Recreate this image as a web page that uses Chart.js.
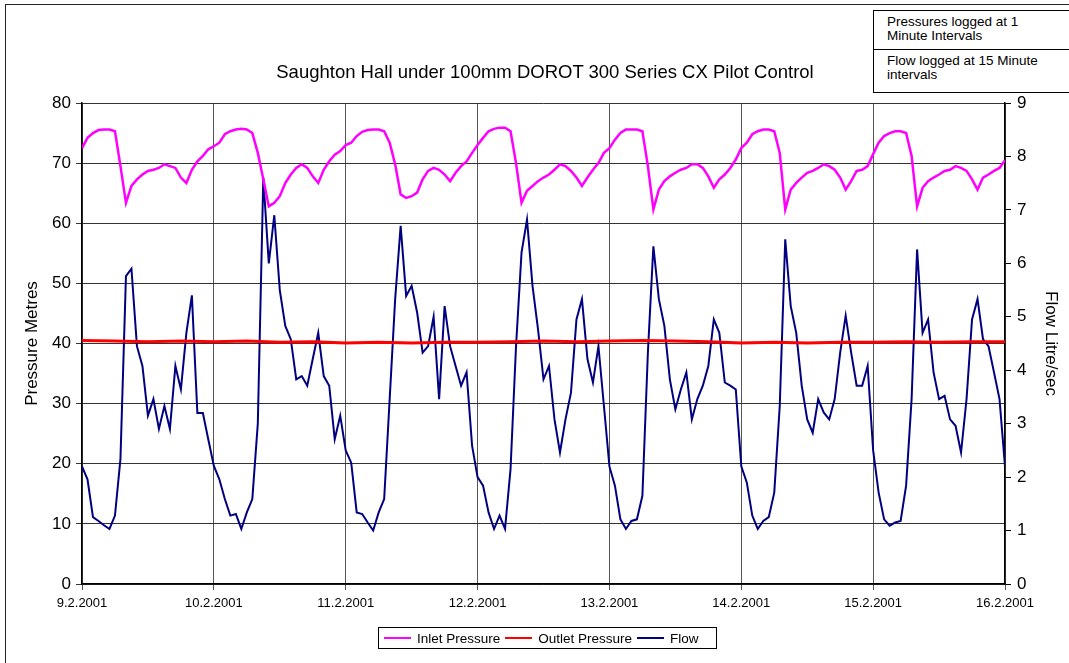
<!DOCTYPE html>
<html>
<head>
<meta charset="utf-8">
<script src="https://cdn.jsdelivr.net/npm/chart.js@4/dist/chart.umd.min.js"></script>
<style>
  body { margin: 0; background: #fff; }
  #frame { position: absolute; left: 5px; top: 4px; width: 1080px; height: 680px; border: 1.5px solid #222; box-sizing: border-box; }
  #wrap { position: absolute; left: 0; top: 0; width: 1069px; height: 663px; }
  .narrow { font-family: "Liberation Sans", sans-serif; color: #000; white-space: nowrap; }
  #title { position: absolute; left: 0; width: 1090px; top: 61px; text-align: center; font-size: 18.5px; }
  .note { position: absolute; left: 873px; width: 200px; border: 1.5px solid #000; box-sizing: border-box; font-size: 13.5px; line-height: 14px; padding: 4px 0 0 13px; background: #fff; }
  #legend { position: absolute; left: 378px; top: 627px; width: 339px; height: 22px; border: 1px solid #000; box-sizing: border-box; font-size: 13.5px; display: flex; align-items: center; padding-left: 2px; }
  #legend span.sw { display: inline-block; width: 27px; height: 0; border-top: 2px solid; margin: 0 6px 0 3px; }
  #legend span.lb { margin-right: 2px; }
</style>
</head>
<body>
<div id="wrap"><canvas id="chart" width="1069" height="663"></canvas></div>
<div id="frame"></div>
<div id="title" class="narrow">Saughton Hall under 100mm DOROT 300 Series CX Pilot Control</div>
<div class="note narrow" style="top:10px;height:40px;">Pressures logged at 1<br>Minute Intervals</div>
<div class="note narrow" style="top:49px;height:44px;">Flow logged at 15 Minute<br>intervals</div>
<div id="legend" class="narrow"></div>
<script>
const dayLabels = ['9.2.2001', '10.2.2001', '11.2.2001', '12.2.2001', '13.2.2001', '14.2.2001', '15.2.2001', '16.2.2001'];

// one value per hour from 9.2.2001 00:00 to 16.2.2001 00:00
const inletPressure = [
  72.5, 74.2, 75.0, 75.5, 75.6, 75.6, 75.3, 69.5, 63.4, 66.2, 67.3, 68.1, 68.7, 68.9, 69.2, 69.8, 69.5, 69.2, 67.6, 66.7, 68.9, 70.3, 71.2, 72.3,
  72.8, 73.4, 74.8, 75.3, 75.6, 75.7, 75.6, 75.0, 71.7, 67.3, 62.8, 63.4, 64.5, 66.7, 68.1, 69.2, 69.8, 69.2, 67.8, 66.7, 68.9, 70.3, 71.4, 72.0,
  73.0, 73.4, 74.5, 75.2, 75.5, 75.6, 75.6, 75.3, 73.4, 69.8, 64.8, 64.2, 64.5, 65.1, 67.3, 68.7, 69.2, 68.9, 68.1, 67.0, 68.4, 69.5, 70.3, 71.7,
  73.0, 74.2, 75.3, 75.7, 75.9, 75.9, 75.3, 70.0, 63.4, 65.4, 66.2, 67.0, 67.6, 68.1, 68.9, 69.8, 69.5, 68.7, 67.6, 66.2, 67.6, 68.9, 70.0, 71.7,
  72.5, 73.9, 75.0, 75.6, 75.6, 75.6, 75.3, 69.5, 62.3, 65.6, 67.0, 67.8, 68.4, 68.9, 69.2, 69.8, 69.8, 69.2, 67.8, 65.9, 67.3, 68.1, 69.2, 70.6,
  72.5, 73.4, 74.8, 75.3, 75.6, 75.6, 75.3, 71.7, 62.3, 65.6, 66.7, 67.6, 68.4, 68.7, 69.2, 69.8, 69.5, 68.9, 67.6, 65.6, 67.0, 68.7, 68.9, 69.5,
  71.5, 73.4, 74.5, 75.0, 75.3, 75.3, 75.0, 71.2, 62.8, 65.9, 67.0, 67.6, 68.1, 68.7, 68.9, 69.5, 69.2, 68.7, 67.3, 65.6, 67.6, 68.1, 68.7, 69.2,
  70.5
];

const flow = [
  2.2, 1.96, 1.25, 1.18, 1.1, 1.03, 1.28, 2.34, 5.76, 5.9, 4.45, 4.08, 3.15, 3.46, 2.9, 3.33, 2.9, 4.08, 3.64, 4.7, 5.4, 3.2, 3.2, 2.7,
  2.21, 1.96, 1.59, 1.28, 1.31, 1.03, 1.34, 1.59, 3.0, 7.6, 6.0, 6.9, 5.5, 4.83, 4.58, 3.83, 3.89, 3.71, 4.21, 4.7, 3.89, 3.71, 2.71, 3.15,
  2.5, 2.27, 1.34, 1.31, 1.15, 1.0, 1.34, 1.59, 3.46, 5.33, 6.7, 5.39, 5.58, 5.08, 4.33, 4.45, 5.0, 3.46, 5.2, 4.45, 4.08, 3.71, 3.96, 2.59,
  2.0, 1.84, 1.34, 1.03, 1.28, 1.03, 2.15, 4.45, 6.2, 6.82, 5.58, 4.77, 3.83, 4.08, 3.08, 2.46, 3.08, 3.58, 4.95, 5.33, 4.21, 3.77, 4.45, 3.33,
  2.2, 1.84, 1.21, 1.03, 1.18, 1.21, 1.65, 4.33, 6.32, 5.33, 4.83, 3.83, 3.27, 3.64, 3.96, 3.08, 3.46, 3.71, 4.08, 4.95, 4.7, 3.77, 3.71, 3.64,
  2.2, 1.9, 1.28, 1.03, 1.18, 1.25, 1.71, 3.33, 6.45, 5.2, 4.7, 3.71, 3.08, 2.83, 3.46, 3.21, 3.08, 3.46, 4.33, 5.02, 4.33, 3.71, 3.71, 4.08,
  2.5, 1.71, 1.21, 1.09, 1.15, 1.18, 1.84, 3.46, 6.26, 4.7, 4.95, 3.96, 3.46, 3.52, 3.08, 2.96, 2.46, 3.46, 4.95, 5.33, 4.58, 4.45, 3.96, 3.46,
  2.2
];

const outletHours = [0, 6, 12, 18, 24, 30, 36, 42, 48, 54, 60, 66, 72, 78, 84, 90, 96, 102, 108, 114, 120, 126, 132, 138, 144, 150, 156, 162, 168];
const outletPressure = [40.5, 40.4, 40.3, 40.4, 40.3, 40.4, 40.2, 40.3, 40.1, 40.2, 40.1, 40.2, 40.2, 40.3, 40.4, 40.3, 40.4, 40.5, 40.4, 40.3, 40.1, 40.2, 40.1, 40.2, 40.2, 40.3, 40.2, 40.3, 40.3];

Chart.defaults.font.family = '"Liberation Sans", sans-serif';
Chart.defaults.color = '#000';

const ctx = document.getElementById('chart');

const chart = new Chart(ctx, {
  type: 'line',
  data: {
    datasets: [
      {
        label: 'Inlet Pressure',
        data: inletPressure.map((v, i) => ({ x: i, y: v })),
        borderColor: '#ff00ff',
        borderWidth: 2.5,
        yAxisID: 'y',
      },
      {
        label: 'Outlet Pressure',
        data: outletPressure.map((v, i) => ({ x: outletHours[i], y: v })),
        borderColor: '#ff0000',
        borderWidth: 3,
        yAxisID: 'y',
      },
      {
        label: 'Flow',
        data: flow.map((v, i) => ({ x: i, y: v })),
        borderColor: '#000080',
        borderWidth: 2,
        yAxisID: 'y1',
      },
    ],
  },
  options: {
    responsive: false,
    animation: false,
    elements: { point: { radius: 0 }, line: { tension: 0 } },
    layout: { padding: { top: 103, bottom: 44, left: 0, right: 0 } },
    plugins: { legend: { display: false }, tooltip: { enabled: false } },
    scales: {
      x: {
        type: 'linear',
        min: 0,
        max: 168,
        afterFit: (s) => { s.height = 35; },
        ticks: {
          stepSize: 24,
          padding: 6,
          font: { size: 13 },
          callback: (v) => dayLabels[v / 24],
        },
        grid: { color: '#555', tickLength: 6 },
        border: { color: '#000', width: 1.5 },
      },
      y: {
        position: 'left',
        min: 0,
        max: 80,
        afterFit: (s) => { s.width = 82; },
        ticks: { stepSize: 10, padding: 5, font: { size: 17 } },
        grid: { color: '#333', tickLength: 6 },
        border: { color: '#000', width: 1.5 },
        title: { display: true, text: 'Pressure Metres', font: { size: 17 }, padding: { top: 22, bottom: 0 } },
      },
      y1: {
        position: 'right',
        min: 0,
        max: 9,
        afterFit: (s) => { s.width = 64; },
        ticks: { stepSize: 1, padding: 6, font: { size: 17 } },
        grid: { drawOnChartArea: false, color: '#000', tickLength: 6 },
        border: { color: '#000', width: 1.5 },
        title: { display: true, text: 'Flow Litre/sec', font: { size: 17 }, padding: { top: 8, bottom: 0 } },
      },
    },
  },
});

const legend = document.getElementById('legend');
chart.data.datasets.forEach((ds) => {
  const sw = document.createElement('span');
  sw.className = 'sw';
  sw.style.borderTopColor = ds.borderColor;
  const lb = document.createElement('span');
  lb.className = 'lb';
  lb.textContent = ds.label;
  legend.appendChild(sw);
  legend.appendChild(lb);
});
</script>
</body>
</html>
